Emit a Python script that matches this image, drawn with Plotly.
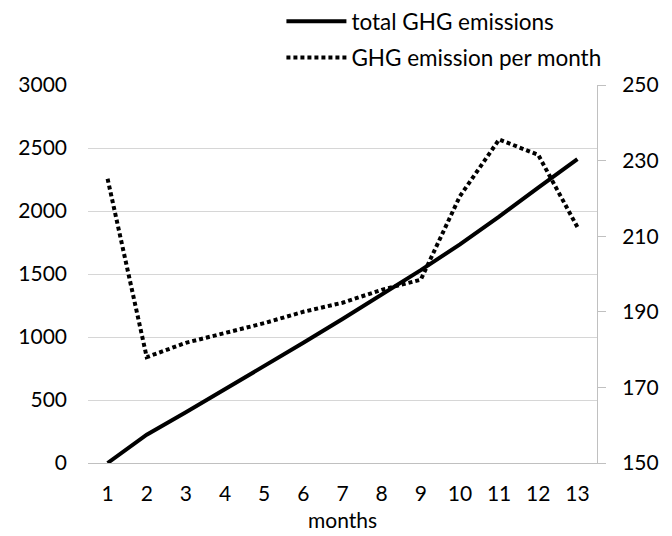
import plotly.graph_objects as go

months = list(range(1, 14))
total_ghg = [0, 225, 402, 583, 767, 954, 1143, 1336, 1531, 1735, 1955, 2186, 2412]
ghg_per_month = [225.2, 178, 181.8, 184.3, 187, 190, 192.4, 195.8, 198.5, 220.6, 235.6, 231.5, 212.4]

left_ticks = [0, 500, 1000, 1500, 2000, 2500, 3000]
right_ticks = [150, 170, 190, 210, 230, 250]

FONT = "Lato"

fig = go.Figure()
fig.add_trace(go.Scatter(
    x=months, y=total_ghg, mode="lines", name="total GHG emissions",
    line=dict(color="black", width=4),
    legendgroup="a", yaxis="y"))
fig.add_trace(go.Scatter(
    x=months, y=ghg_per_month, mode="lines", name="GHG emission per month",
    line=dict(color="black", width=4, dash="4px,3px"),
    legendgroup="b", yaxis="y2"))

fig.update_layout(
    width=672, height=536,
    margin=dict(l=88, r=75, t=85, b=73, autoexpand=False),
    paper_bgcolor="white", plot_bgcolor="white",
    font=dict(family=FONT, size=21, color="black"),
    showlegend=True,
    legend=dict(x=0.38, xanchor="left", y=1.0, yanchor="top", yref="container",
                font=dict(size=22.5), tracegroupgap=4, bgcolor="rgba(0,0,0,0)",
                itemwidth=60),
    xaxis=dict(range=[0.5, 13.5], tickvals=months, ticktext=[str(m) for m in months],
               showgrid=False, zeroline=False, showline=True, linecolor="#c0c0c0", linewidth=1,
               ticks="", ticklabelstandoff=12,
               title=dict(text="months", standoff=9, font=dict(size=21))),
    yaxis=dict(range=[0, 3000], tickvals=left_ticks, showgrid=True, gridcolor="#d6d6d6",
               gridwidth=1, zeroline=False, showline=False, ticks="", ticklabelstandoff=20),
    yaxis2=dict(range=[150, 250], tickvals=right_ticks, overlaying="y", side="right",
                showgrid=False, zeroline=False, showline=True, linecolor="#c0c0c0",
                linewidth=1, ticks="outside", ticklen=8, tickcolor="#c0c0c0",
                ticklabelstandoff=12),
)

fig.write_html("out.html", config={"displayModeBar": False},
               post_script="document.body.style.margin='0px';")
